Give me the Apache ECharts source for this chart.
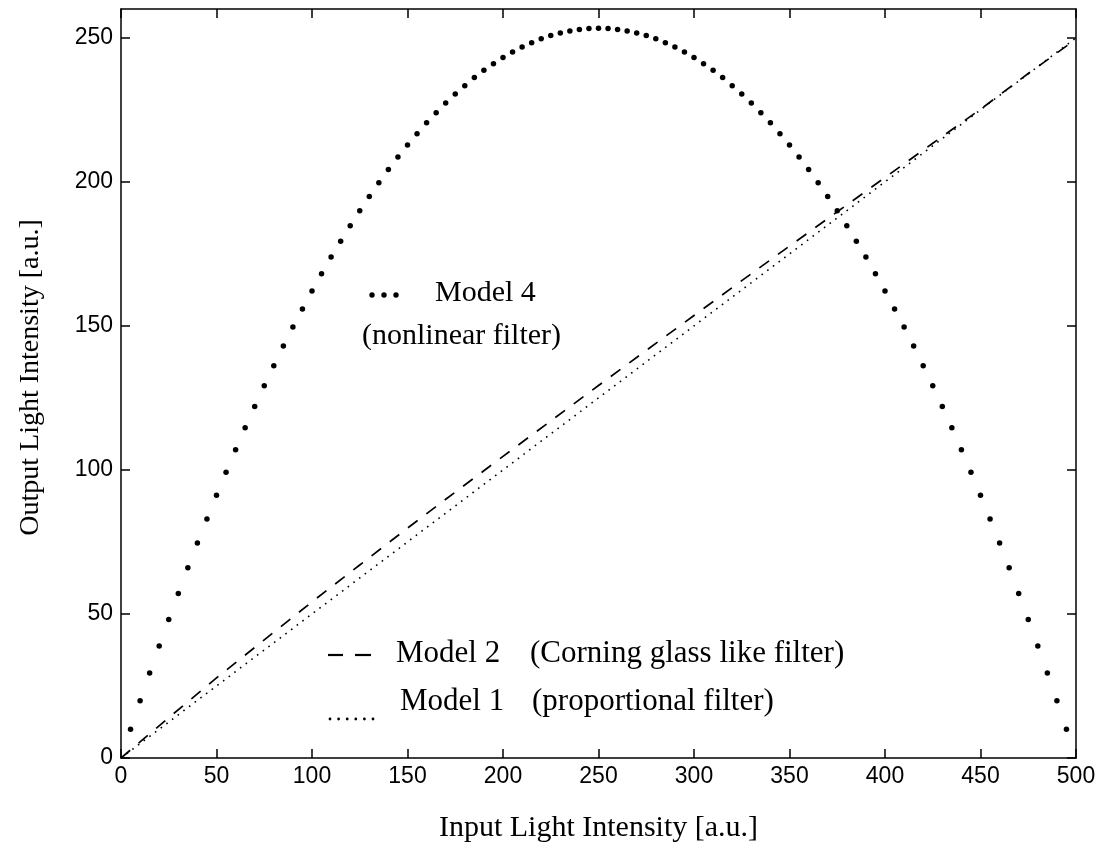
<!DOCTYPE html>
<html>
<head>
<meta charset="utf-8">
<script src="https://cdn.jsdelivr.net/npm/echarts@6/dist/echarts.min.js"></script>
<style>
html,body{margin:0;padding:0;background:#fff;}
#chart{width:1106px;height:848px;}
</style>
</head>
<body>
<div id="chart"></div>
<script>
// ---- data ----
const xTickValues = [0, 50, 100, 150, 200, 250, 300, 350, 400, 450, 500];
const yTickValues = [0, 50, 100, 150, 200, 250];

const model4X = [5,10,15,20,25,30,35,40,45,50,55,60,65,70,75,80,85,90,95,100,
  105,110,115,120,125,130,135,140,145,150,155,160,165,170,175,180,185,190,195,200,
  205,210,215,220,225,230,235,240,245,250,255,260,265,270,275,280,285,290,295,300,
  305,310,315,320,325,330,335,340,345,350,355,360,365,370,375,380,385,390,395,400,
  405,410,415,420,425,430,435,440,445,450,455,460,465,470,475,480,485,490,495];
const model4Y = [10.0,19.9,29.5,38.9,48.1,57.1,66.0,74.6,83.0,91.2,99.2,107.0,114.6,122.0,129.2,136.2,143.0,149.6,155.9,162.1,
  168.1,173.9,179.4,184.8,190.0,194.9,199.7,204.3,208.6,212.8,216.7,220.5,224.0,227.4,230.5,233.4,236.2,238.7,241.0,243.2,
  245.1,246.8,248.3,249.7,250.8,251.7,252.4,252.9,253.2,253.3,253.2,252.9,252.4,251.7,250.8,249.7,248.3,246.8,245.1,243.2,
  241.0,238.7,236.2,233.4,230.5,227.4,224.0,220.5,216.7,212.8,208.6,204.3,199.7,194.9,190.0,184.8,179.4,173.9,168.1,162.1,
  155.9,149.6,143.0,136.2,129.2,122.0,114.6,107.0,99.2,91.2,83.0,74.6,66.0,57.1,48.1,38.9,29.5,19.9,10.0];

const model2X = [0,25,50,75,100,125,150,175,200,225,250,275,300,325,350,375,400,425,450,475,500];
const model2Y = [0,14.0,27.8,41.0,54.2,67.0,79.8,92.3,104.7,117.0,129.3,141.5,153.6,165.7,177.7,189.6,201.5,213.4,225.2,237.6,249.5];

const model1X = [0, 500];
const model1Y = [0, 250];

const zip = (xs, ys) => xs.map((x, i) => [x, ys[i]]);

const serif = '"Liberation Serif", "DejaVu Serif", serif';
const sans = '"Liberation Sans", Arial, sans-serif';
const AX = { onZero: false, lineStyle: { color: '#000', width: 1.5 } };
const TICK = { inside: true, length: 9, lineStyle: { color: '#000', width: 1.5 } };

const chart = echarts.init(document.getElementById('chart'), null, { renderer: 'canvas' });
chart.setOption({
  animation: false,
  backgroundColor: '#fff',
  grid: { left: 121, right: 30, top: 9, bottom: 90, containLabel: false },
  xAxis: [
    { type: 'value', position: 'bottom', min: 0, max: 500, interval: 50,
      name: 'Input Light Intensity [a.u.]', nameLocation: 'middle', nameGap: 55,
      nameTextStyle: { fontFamily: serif, fontSize: 30, color: '#000' },
      axisLine: AX, axisTick: TICK, splitLine: { show: false },
      axisLabel: { fontFamily: sans, fontSize: 23, color: '#000', margin: 7 } },
    { type: 'value', position: 'top', min: 0, max: 500, interval: 50,
      axisLine: AX, axisTick: TICK, splitLine: { show: false }, axisLabel: { show: false } }
  ],
  yAxis: [
    { type: 'value', position: 'left', min: 0, max: 260, interval: 50,
      name: 'Output Light Intensity [a.u.]', nameLocation: 'middle', nameGap: 76, nameRotate: 90,
      nameTextStyle: { fontFamily: serif, fontSize: 28, color: '#000', padding: [0, 0, 0, 12] },
      axisLine: AX, axisTick: Object.assign({}, TICK, { customValues: yTickValues }), splitLine: { show: false },
      axisLabel: { fontFamily: sans, fontSize: 23, color: '#000', margin: 8, customValues: yTickValues } },
    { type: 'value', position: 'right', min: 0, max: 260, interval: 50,
      axisLine: AX, axisTick: Object.assign({}, TICK, { customValues: yTickValues }), splitLine: { show: false },
      axisLabel: { show: false } }
  ],
  series: [
    { name: 'Model 1', type: 'line', data: zip(model1X, model1Y), showSymbol: false,
      lineStyle: { color: '#000', width: 1.6, type: [1.6, 5.5] } },
    { name: 'Model 2', type: 'line', data: zip(model2X, model2Y), showSymbol: false,
      lineStyle: { color: '#000', width: 1.7, type: [12, 11] } },
    { name: 'Model 4', type: 'scatter', data: zip(model4X, model4Y), symbol: 'circle', symbolSize: 5.5,
      itemStyle: { color: '#000', opacity: 1 } }
  ],
  graphic: [
    // Model 4 annotation
    { type: 'circle', shape: { cx: 372, cy: 295, r: 2.7 }, style: { fill: '#000' } },
    { type: 'circle', shape: { cx: 384, cy: 295, r: 2.7 }, style: { fill: '#000' } },
    { type: 'circle', shape: { cx: 396, cy: 295, r: 2.7 }, style: { fill: '#000' } },
    { type: 'text', x: 435, y: 293, style: { text: 'Model 4', font: '30px ' + serif, fill: '#000', verticalAlign: 'middle' } },
    { type: 'text', x: 362, y: 336, style: { text: '(nonlinear filter)', font: '30px ' + serif, fill: '#000', verticalAlign: 'middle' } },
    // Model 2 annotation
    { type: 'line', shape: { x1: 328, y1: 655, x2: 343, y2: 655 }, style: { stroke: '#000', lineWidth: 2.2 } },
    { type: 'line', shape: { x1: 355, y1: 655, x2: 371, y2: 655 }, style: { stroke: '#000', lineWidth: 2.2 } },
    { type: 'text', x: 396, y: 654, style: { text: 'Model 2', font: '31px ' + serif, fill: '#000', verticalAlign: 'middle' } },
    { type: 'text', x: 530, y: 654, style: { text: '(Corning glass like filter)', font: '31px ' + serif, fill: '#000', verticalAlign: 'middle' } },
    // Model 1 annotation
    { type: 'group', children: [330, 338.6, 347.2, 355.8, 364.4, 373].map(cx => (
      { type: 'circle', shape: { cx: cx, cy: 719, r: 1.4 }, style: { fill: '#000' } })) },
    { type: 'text', x: 400, y: 702, style: { text: 'Model 1', font: '31px ' + serif, fill: '#000', verticalAlign: 'middle' } },
    { type: 'text', x: 532, y: 702, style: { text: '(proportional filter)', font: '31px ' + serif, fill: '#000', verticalAlign: 'middle' } }
  ]
});
</script>
</body>
</html>
